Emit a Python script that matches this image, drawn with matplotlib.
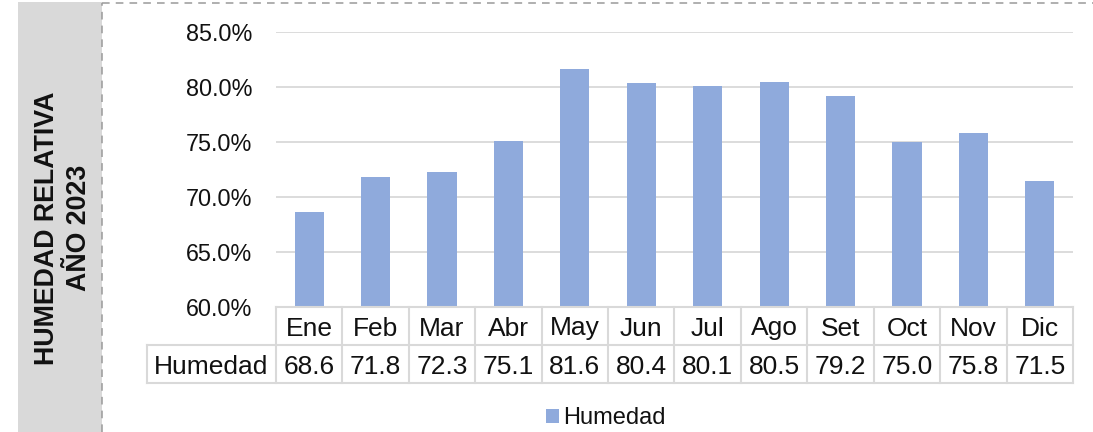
import matplotlib
matplotlib.use("Agg")
import matplotlib.pyplot as plt
from matplotlib.lines import Line2D
from matplotlib.patches import Rectangle
from matplotlib.ticker import FuncFormatter
from matplotlib.transforms import blended_transform_factory

plt.rcParams["font.family"] = ["Liberation Sans", "DejaVu Sans"]

months = ["Ene", "Feb", "Mar", "Abr", "May", "Jun", "Jul", "Ago", "Set", "Oct", "Nov", "Dic"]
humedad = [68.6, 71.8, 72.3, 75.1, 81.6, 80.4, 80.1, 80.5, 79.2, 75.0, 75.8, 71.5]
series_name = "Humedad"
side_title = "HUMEDAD RELATIVA\nAÑO 2023"

BAR = "#8faadc"
GRID = "#d9d9d9"
TEXT = "#111111"
W, H = 1093, 432

fig = plt.figure(figsize=(W / 100, H / 100), dpi=100)
ax = fig.add_axes([276 / W, 1 - 307 / H, 797 / W, 275 / H])

x = list(range(len(months)))
ax.bar(x, humedad, width=0.44, color=BAR, zorder=2, label=series_name)
ax.set_xlim(-0.5, len(months) - 0.5)
ax.set_ylim(60, 85)
ax.set_yticks([60, 65, 70, 75, 80, 85])
ax.yaxis.set_major_formatter(FuncFormatter(lambda v, _: f"{v:.1f}%"))
ax.tick_params(axis="y", length=0, pad=17, labelsize=16.8, labelcolor=TEXT)
ax.set_xticks([])
ax.grid(axis="y", color=GRID, lw=1.3, zorder=0)
for s in ax.spines.values():
    s.set_visible(False)

# data table under the bars (x in data units, y in axes units)
tr = blended_transform_factory(ax.transData, ax.transAxes)
row_h = 38 / 275
label_left = -0.5 - 129 / (797 / 12)
n = len(months)
cell_font = 19


def hline(x0, x1, y):
    ax.add_line(Line2D([x0, x1], [y, y], transform=tr, color=GRID, lw=1.5, clip_on=False))


def vline(xv, y0, y1):
    ax.add_line(Line2D([xv, xv], [y0, y1], transform=tr, color=GRID, lw=1.5, clip_on=False))


hline(-0.5, n - 0.5, 0)
hline(label_left, n - 0.5, -row_h)
hline(label_left, n - 0.5, -2 * row_h)
for i in range(n + 1):
    vline(i - 0.5, 0, -2 * row_h)
vline(label_left, -row_h, -2 * row_h)

for i, (m, v) in enumerate(zip(months, humedad)):
    ax.text(i, -row_h / 2, m, transform=tr, ha="center", va="center_baseline",
            fontsize=cell_font, color=TEXT)
    ax.text(i, -1.5 * row_h, f"{v:.1f}", transform=tr, ha="center", va="center_baseline",
            fontsize=cell_font, color=TEXT)
ax.text((label_left - 0.5) / 2, -1.5 * row_h, series_name, transform=tr,
        ha="center", va="center_baseline", fontsize=cell_font, color=TEXT)

# side panel with the rotated title and dashed frame
fig.patches.append(Rectangle((18 / W, 0), 84 / W, 1 - 2 / H, transform=fig.transFigure,
                             facecolor="#d9d9d9", edgecolor="none", zorder=0))
dash = dict(color="#9a9a9a", lw=1.1, ls=(0, (5, 4)), transform=fig.transFigure)
fig.add_artist(Line2D([102 / W, 102 / W], [0, 1 - 3 / H], **dash))
fig.add_artist(Line2D([102 / W, 1], [1 - 3 / H, 1 - 3 / H], **dash))
fig.text(63 / W, 1 - 228 / H, side_title, rotation=90, ha="center", va="center",
         fontsize=19.3, fontweight="bold", color=TEXT, linespacing=1.25, multialignment="center")

fig.legend(loc="center", bbox_to_anchor=(606 / W, 1 - 418 / H), frameon=False,
           fontsize=17, handlelength=0.55, handleheight=0.55, handletextpad=0.2,
           labelcolor=TEXT)

fig.savefig("out.png", dpi=100)
